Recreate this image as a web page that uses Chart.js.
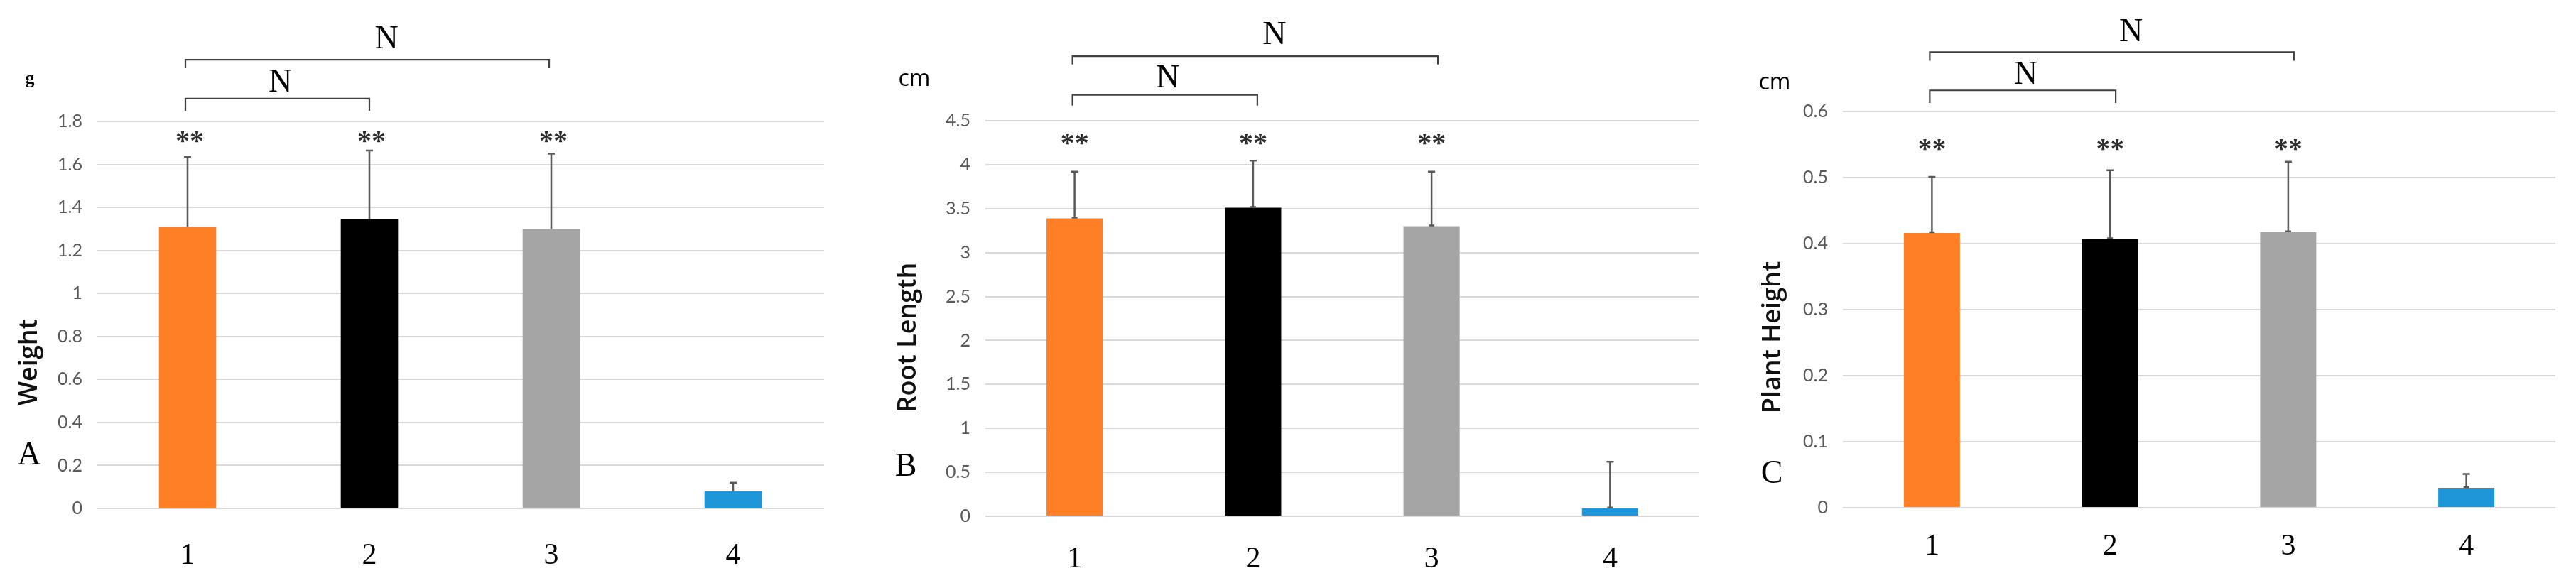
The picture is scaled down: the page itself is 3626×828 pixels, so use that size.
<!DOCTYPE html>
<html>
<head>
<meta charset="utf-8">
<script src="https://cdn.jsdelivr.net/npm/chart.js@4/dist/chart.umd.min.js"></script>
<style>
html,body{margin:0;padding:0;background:#fff;}
#wrap{position:relative;width:3626px;height:828px;overflow:hidden;background:#fff;}
.panel{position:absolute;top:0;height:828px;}
canvas{display:block;}
</style>
</head>
<body>
<div id="wrap">
  <div class="panel" style="left:0;width:1190px"><canvas id="cA" width="1190" height="828"></canvas></div>
  <div class="panel" style="left:1190px;width:1210px"><canvas id="cB" width="1210" height="828"></canvas></div>
  <div class="panel" style="left:2400px;width:1226px"><canvas id="cC" width="1226" height="828"></canvas></div>
</div>
<script>
// ---- data ----
const categories = ['1', '2', '3', '4'];

const weightMeans  = [1.31, 1.345, 1.30, 0.08];
const weightErrors = [0.325, 0.32, 0.35, 0.04];
const weightTicks  = [0, 0.2, 0.4, 0.6, 0.8, 1, 1.2, 1.4, 1.6, 1.8];

const rootMeans  = [3.39, 3.51, 3.30, 0.09];
const rootErrors = [0.53, 0.535, 0.62, 0.53];
const rootTicks  = [0, 0.5, 1, 1.5, 2, 2.5, 3, 3.5, 4, 4.5];

const heightMeans  = [0.416, 0.407, 0.4175, 0.030];
const heightErrors = [0.085, 0.104, 0.1065, 0.021];
const heightTicks  = [0, 0.1, 0.2, 0.3, 0.4, 0.5, 0.6];

const significance = ['**', '**', '**', ''];
const comparisons  = [[0, 1, 'N'], [0, 2, 'N']];

// ---- styles ----
const barColors = ['#FF7F27', '#000000', '#A5A5A5', '#1E96D7'];

function makePanel(id, means, errors, ticks, P) {
  const ctxEl = document.getElementById(id);
  const extras = {
    id: 'extras_' + id,
    afterDatasetsDraw(chart) {
      const ctx = chart.ctx;
      const ys = chart.scales.y;
      const meta = chart.getDatasetMeta(0);
      ctx.save();
      // error bars
      ctx.strokeStyle = '#595959';
      ctx.lineWidth = 2.5;
      means.forEach((m, i) => {
        const x = meta.data[i].x;
        const y0 = ys.getPixelForValue(m);
        const y1 = ys.getPixelForValue(m + errors[i]);
        ctx.beginPath();
        ctx.moveTo(x, y0); ctx.lineTo(x, y1);
        ctx.moveTo(x - 5, y1); ctx.lineTo(x + 5, y1);
        if (P.lowCap) { ctx.moveTo(x - 4, y0 - 1); ctx.lineTo(x + 4, y0 - 1); }
        ctx.stroke();
      });
      // significance stars
      ctx.fillStyle = '#2e2e2e';
      ctx.font = 'bold 40px "Liberation Serif"';
      ctx.textAlign = 'center';
      ctx.textBaseline = 'alphabetic';
      significance.forEach((s, i) => {
        if (!s) return;
        const x = meta.data[i].x + P.starDx;
        const yc = ys.getPixelForValue(P.starY);
        ctx.fillText(s, x, yc + 21);
      });
      // comparison brackets
      comparisons.forEach((c, k) => {
        const B = P.brackets[k];
        const xa = meta.data[c[0]].x - 3;
        const xb = meta.data[c[1]].x + B.dxr;
        const yl = ys.getPixelForValue(B.y);
        const yd = ys.getPixelForValue(B.drop);
        ctx.strokeStyle = '#404040';
        ctx.lineWidth = 2.2;
        ctx.beginPath();
        ctx.moveTo(xa, yd); ctx.lineTo(xa, yl); ctx.lineTo(xb, yl); ctx.lineTo(xb, yd);
        ctx.stroke();
        ctx.fillStyle = '#000';
        ctx.font = '46px "Liberation Serif"';
        ctx.textBaseline = 'middle';
        ctx.fillText(c[2], (xa + xb) / 2 + B.ndx, ys.getPixelForValue(B.n));
      });
      // unit label
      ctx.fillStyle = '#000';
      ctx.font = P.unit.font;
      ctx.textBaseline = 'middle';
      ctx.textAlign = 'center';
      ctx.fillText(P.unit.text, P.unit.x, P.unit.y);
      // panel letter
      ctx.font = '46px "Liberation Serif"';
      ctx.fillText(P.letter.text, P.letter.x, P.letter.y);
      // axis title (rotated)
      ctx.save();
      ctx.translate(P.title.x, P.title.y);
      ctx.rotate(-Math.PI / 2);
      ctx.fillStyle = '#111';
      ctx.font = '600 36px "Open Sans"';
      ctx.fillText(P.title.text, 0, 0);
      ctx.restore();
      ctx.restore();
    }
  };
  return new Chart(ctxEl, {
    type: 'bar',
    data: {
      labels: categories,
      datasets: [{
        data: means,
        backgroundColor: barColors,
        borderWidth: 0,
        barPercentage: 0.315,
        categoryPercentage: 1
      }]
    },
    options: {
      responsive: false,
      animation: false,
      events: [],
      layout: { padding: { left: 0, top: P.top, right: P.right, bottom: 0 } },
      plugins: { legend: { display: false }, tooltip: { enabled: false } },
      scales: {
        x: {
          grid: { display: false },
          border: { display: false },
          ticks: {
            font: { family: '"Liberation Serif"', size: 42 },
            color: '#000',
            padding: P.xPad,
            maxRotation: 0
          },
          afterFit(s) { s.height = 828 - P.bottom; }
        },
        y: {
          min: ticks[0],
          max: ticks[ticks.length - 1],
          grid: { color: '#d9d9d9', lineWidth: 2, drawTicks: false },
          border: { display: false },
          ticks: {
            font: { family: 'Lato', size: 25 },
            color: '#595959',
            padding: P.yPad,
            callback: v => String(Math.round(v * 1000) / 1000)
          },
          afterBuildTicks(s) { s.ticks = ticks.map(v => ({ value: v })); },
          afterFit(s) { s.width = P.left; }
        }
      }
    },
    plugins: [extras]
  });
}

makePanel('cA', weightMeans, weightErrors, weightTicks, {
  left: 136, right: 30, top: 171, bottom: 716, yPad: 20, xPad: 34, lowCap: false,
  starY: 1.737, starDx: 3,
  brackets: [
    { y: 1.906, drop: 1.849, n: 1.978, ndx: 4, dxr: 0 },
    { y: 2.087, drop: 2.048, n: 2.18, ndx: 27, dxr: -3 }
  ],
  unit: { text: 'g', x: 42, y: 111, font: 'bold 26px "Liberation Serif"' },
  title: { text: 'Weight', x: 42, y: 510 },
  letter: { text: 'A', x: 41, y: 642 }
});

makePanel('cB', rootMeans, rootErrors, rootTicks, {
  left: 197, right: 8, top: 170, bottom: 727, yPad: 21, xPad: 28, lowCap: true,
  starY: 4.318, starDx: 0,
  brackets: [
    { y: 4.794, drop: 4.671, n: 4.98, ndx: 4, dxr: 6 },
    { y: 5.234, drop: 5.141, n: 5.472, ndx: 27, dxr: 9 }
  ],
  unit: { text: 'cm', x: 97, y: 112, font: '32px "Open Sans"' },
  title: { text: 'Root Length', x: 89, y: 475 },
  letter: { text: 'B', x: 85, y: 658 }
});

makePanel('cC', heightMeans, heightErrors, heightTicks, {
  left: 194, right: 29, top: 157, bottom: 715, yPad: 21, xPad: 22, lowCap: true,
  starY: 0.553, starDx: 0,
  brackets: [
    { y: 0.632, drop: 0.613, n: 0.655, ndx: 4, dxr: 8 },
    { y: 0.690, drop: 0.677, n: 0.719, ndx: 27, dxr: 8 }
  ],
  unit: { text: 'cm', x: 98, y: 117, font: '32px "Open Sans"' },
  title: { text: 'Plant Height', x: 96, y: 475 },
  letter: { text: 'C', x: 94, y: 668 }
});
</script>
</body>
</html>
